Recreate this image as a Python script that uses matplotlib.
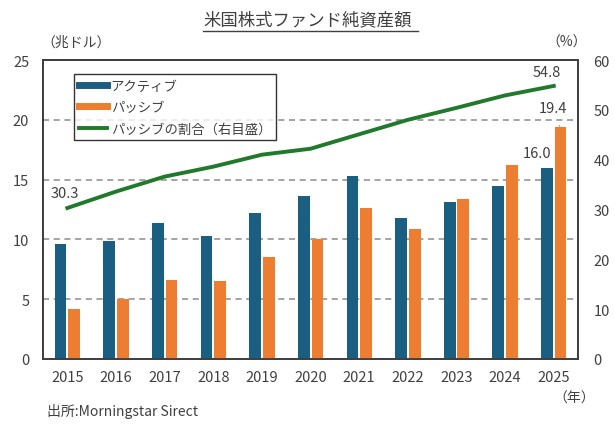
import numpy as np
import matplotlib
matplotlib.use('Agg')
import matplotlib.pyplot as plt
from matplotlib.lines import Line2D

plt.rcParams['font.family'] = ['Noto Sans CJK JP', 'DejaVu Sans']

# data
years = ['2015', '2016', '2017', '2018', '2019', '2020', '2021', '2022', '2023', '2024', '2025']
active = [9.6, 9.9, 11.4, 10.3, 12.2, 13.6, 15.3, 11.8, 13.1, 14.5, 16.0]
passive = [4.2, 5.0, 6.6, 6.5, 8.5, 10.0, 12.6, 10.9, 13.4, 16.2, 19.4]
share = [30.3, 33.6, 36.6, 38.6, 41.0, 42.2, 45.1, 48.0, 50.4, 52.9, 54.8]

c_act = '#1a5f82'
c_pas = '#ed7d31'
c_line = '#217a2c'
c_txt = '#404040'

fig = plt.figure(figsize=(6.15, 4.39), dpi=100)
ax = fig.add_axes([0.070, 0.180, 0.870, 0.681])
ax2 = ax.twinx()

x = np.arange(len(years))
w = 0.24
ax.bar(x - 0.14, active, width=w, color=c_act, label='アクティブ', zorder=3)
ax.bar(x + 0.14, passive, width=w, color=c_pas, label='パッシブ', zorder=3)
ax2.plot(x, share, color=c_line, lw=2.8, label='パッシブの割合（右目盛）', zorder=4)

ax.set_xlim(-0.5, len(years) - 0.5)
ax.set_ylim(0, 25)
ax.set_yticks([0, 5, 10, 15, 20, 25])
ax2.set_ylim(0, 60)
ax2.set_yticks([0, 10, 20, 30, 40, 50, 60])
ax.set_xticks(x)
ax.set_xticklabels(years)

for yv in [5, 10, 15, 20]:
    ax.axhline(yv, color='#8c8c8c', lw=1.1, ls=(0, (4, 3)), zorder=1)

for a in (ax, ax2):
    a.tick_params(length=0, labelsize=10.5, labelcolor=c_txt)
    for s in a.spines.values():
        s.set_color('#404040')
        s.set_linewidth(1.3)
ax.tick_params(axis='y', pad=10)
ax2.tick_params(axis='y', pad=11)
ax.tick_params(axis='x', pad=8)

# value labels
ax2.text(x[0] - 0.05, share[0] + 3.0, '30.3', fontsize=10.5, color=c_txt, ha='center', va='center')
ax2.text(x[-1] - 0.15, share[-1] + 2.8, '54.8', fontsize=10.5, color=c_txt, ha='center', va='center')
ax.text(x[-1] - 0.34, active[-1] + 1.25, '16.0', fontsize=10.5, color=c_txt, ha='center', va='center')
ax.annotate('19.4', xy=(x[-1] + 0.12, passive[-1] + 0.05), xytext=(x[-1] - 0.02, passive[-1] + 1.6),
            fontsize=10.5, color=c_txt, ha='center', va='center',
            arrowprops=dict(arrowstyle='-', color='#a0a0a0', lw=0.8, shrinkA=6, shrinkB=0))

# legend
handles = [Line2D([], [], color=c_act, lw=5),
           Line2D([], [], color=c_pas, lw=5),
           Line2D([], [], color=c_line, lw=2.8)]
labels = ['アクティブ', 'パッシブ', 'パッシブの割合（右目盛）']
leg = ax2.legend(handles, labels, loc='upper left', bbox_to_anchor=(0.058, 0.953),
                 fontsize=9.6, frameon=True, fancybox=False, handlelength=2.1,
                 handletextpad=0.3, labelspacing=0.55, borderpad=0.35, borderaxespad=0)
leg.get_frame().set_edgecolor('black')
leg.get_frame().set_linewidth(1.0)
for t in leg.get_texts():
    t.set_color(c_txt)

# title with underline
fig.text(0.5, 0.953, '米国株式ファンド純資産額', ha='center', va='center', fontsize=12.5, color=c_txt)
fig.add_artist(Line2D([0.330, 0.680], [0.928, 0.928], color=c_txt, lw=1.0))

fig.text(0.068, 0.902, '（兆ドル）', ha='left', va='center', fontsize=10, color=c_txt)
fig.text(0.955, 0.902, '（%）', ha='right', va='center', fontsize=10, color=c_txt)
fig.text(0.968, 0.092, '（年）', ha='right', va='center', fontsize=10, color=c_txt)
fig.text(0.076, 0.062, '出所:Morningstar Sirect', ha='left', va='center', fontsize=10, color=c_txt)

fig.savefig('out.png', dpi=100)
